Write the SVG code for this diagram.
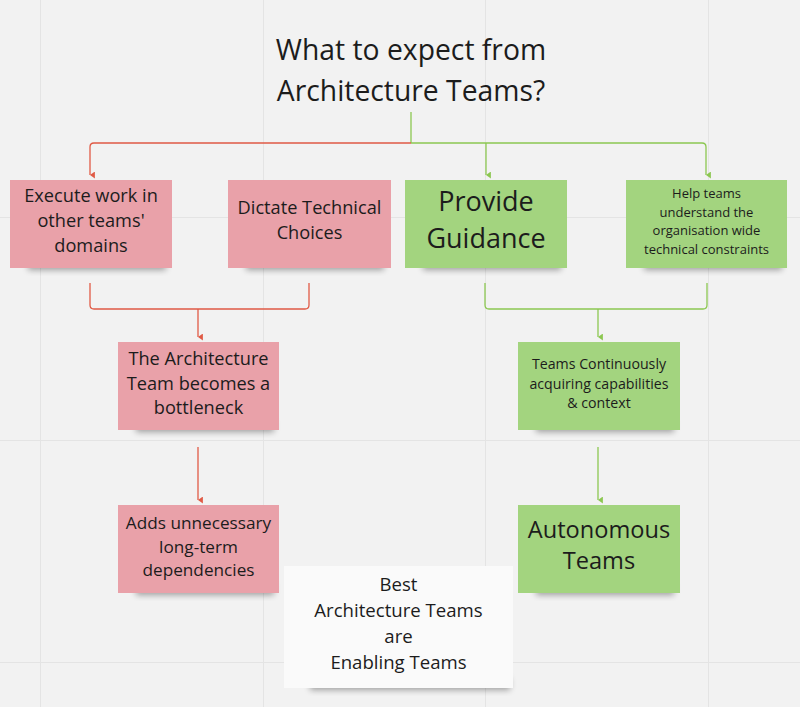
<svg xmlns="http://www.w3.org/2000/svg" width="800" height="707" viewBox="0 0 800 707">
<defs>
<style>
.t{font-family:"Open Sans","Noto Sans",sans-serif;fill:#1c1c1c;text-anchor:middle}
.red{fill:#e9a1a9}
.green{fill:#a3d47f}
.white{fill:#fafafa}
.grid{stroke:#e4e4e4;stroke-width:1}
.rl{fill:none;stroke:#e05a45;stroke-width:1.3}
.gl{fill:none;stroke:#8cc751;stroke-width:1.3}
.sh{fill:#000;opacity:0.35;filter:url(#blur)}
</style>
<filter id="blur" x="-20%" y="-50%" width="140%" height="200%"><feGaussianBlur stdDeviation="3"/></filter>
<marker id="ar" viewBox="0 0 10 10" refX="5" refY="9" markerWidth="7" markerHeight="7" orient="auto-start-reverse" markerUnits="userSpaceOnUse"><path d="M0,2 L10,2 L5,9 z" fill="#e05a45"/></marker>
<marker id="ag" viewBox="0 0 10 10" refX="5" refY="9" markerWidth="7" markerHeight="7" orient="auto-start-reverse" markerUnits="userSpaceOnUse"><path d="M0,2 L10,2 L5,9 z" fill="#8cc751"/></marker>
</defs>
<rect width="800" height="707" fill="#f2f2f2"/>
<g id="grid">
<line class="grid" x1="40.5" y1="0" x2="40.5" y2="707"/>
<line class="grid" x1="263.5" y1="0" x2="263.5" y2="707"/>
<line class="grid" x1="485.5" y1="0" x2="485.5" y2="707"/>
<line class="grid" x1="708.5" y1="0" x2="708.5" y2="707"/>
<line class="grid" x1="0" y1="217.5" x2="800" y2="217.5"/>
<line class="grid" x1="0" y1="440.5" x2="800" y2="440.5"/>
<line class="grid" x1="0" y1="662.5" x2="800" y2="662.5"/>
</g>
<g id="title">
<text class="t" x="411" y="60" font-size="28.3">What to expect from</text>
<text class="t" x="411" y="101" font-size="28.3">Architecture Teams?</text>
</g>
<g id="connectors">
<path class="gl" d="M411,112 V143"/>
<path class="rl" d="M411,143 H94 Q90,143 90,147 V175" marker-end="url(#ar)"/>
<path class="gl" d="M411,143 H702 Q706,143 706,147 V175" marker-end="url(#ag)"/>
<path class="gl" d="M486,143 V175" marker-end="url(#ag)"/>
<path class="rl" d="M90,283 V305 Q90,309 94,309 H305 Q309,309 309,305 V283"/>
<path class="rl" d="M198,309 V337" marker-end="url(#ar)"/>
<path class="rl" d="M198,447 V500" marker-end="url(#ar)"/>
<path class="gl" d="M485,283 V305 Q485,309 489,309 H703 Q707,309 707,305 V283"/>
<path class="gl" d="M598,309 V337" marker-end="url(#ag)"/>
<path class="gl" d="M598,447 V500" marker-end="url(#ag)"/>
</g>
<g id="n1">
<rect class="sh" x="28" y="258" width="138" height="12"/>
<rect class="red" x="10" y="180" width="162" height="88"/>
<text class="t" font-size="18.2"><tspan x="91" y="202">Execute work in</tspan><tspan x="91" y="227">other teams'</tspan><tspan x="91" y="252">domains</tspan></text>
</g>
<g id="n2">
<rect class="sh" x="246" y="258" width="138" height="12"/>
<rect class="red" x="228" y="180" width="163" height="88"/>
<text class="t" font-size="18.2"><tspan x="309.5" y="214">Dictate Technical</tspan><tspan x="309.5" y="239">Choices</tspan></text>
</g>
<g id="n3">
<rect class="sh" x="423" y="258" width="138" height="12"/>
<rect class="green" x="405" y="180" width="162" height="88"/>
<text class="t" font-size="27"><tspan x="486" y="211">Provide</tspan><tspan x="486" y="248">Guidance</tspan></text>
</g>
<g id="n4">
<rect class="sh" x="644" y="258" width="138" height="12"/>
<rect class="green" x="626" y="180" width="161" height="88"/>
<text class="t" font-size="13"><tspan x="706.5" y="198">Help teams</tspan><tspan x="706.5" y="217">understand the</tspan><tspan x="706.5" y="235">organisation wide</tspan><tspan x="706.5" y="254">technical constraints</tspan></text>
</g>
<g id="n5">
<rect class="sh" x="136" y="420" width="138" height="12"/>
<rect class="red" x="118" y="342" width="161" height="88"/>
<text class="t" font-size="18.2"><tspan x="198.5" y="365">The Architecture</tspan><tspan x="198.5" y="390">Team becomes a</tspan><tspan x="198.5" y="414">bottleneck</tspan></text>
</g>
<g id="n6">
<rect class="sh" x="136" y="583" width="138" height="12"/>
<rect class="red" x="118" y="505" width="161" height="88"/>
<text class="t" font-size="17.2"><tspan x="198.5" y="529">Adds unnecessary</tspan><tspan x="198.5" y="553">long-term</tspan><tspan x="198.5" y="576">dependencies</tspan></text>
</g>
<g id="n7">
<rect class="sh" x="536" y="420" width="138" height="12"/>
<rect class="green" x="518" y="342" width="162" height="88"/>
<text class="t" font-size="14.2"><tspan x="599" y="369">Teams Continuously</tspan><tspan x="599" y="389">acquiring capabilities</tspan><tspan x="599" y="408">&amp; context</tspan></text>
</g>
<g id="n8">
<rect class="sh" x="536" y="583" width="138" height="12"/>
<rect class="green" x="518" y="505" width="162" height="88"/>
<text class="t" font-size="23.6"><tspan x="599" y="538">Autonomous</tspan><tspan x="599" y="569">Teams</tspan></text>
</g>
<g id="n9">
<rect class="sh" x="310" y="678" width="200" height="12"/>
<rect class="white" x="284" y="566" width="229" height="122"/>
<text class="t" font-size="18.6"><tspan x="398.5" y="591">Best</tspan><tspan x="398.5" y="617">Architecture Teams</tspan><tspan x="398.5" y="643">are</tspan><tspan x="398.5" y="669">Enabling Teams</tspan></text>
</g>
</svg>
